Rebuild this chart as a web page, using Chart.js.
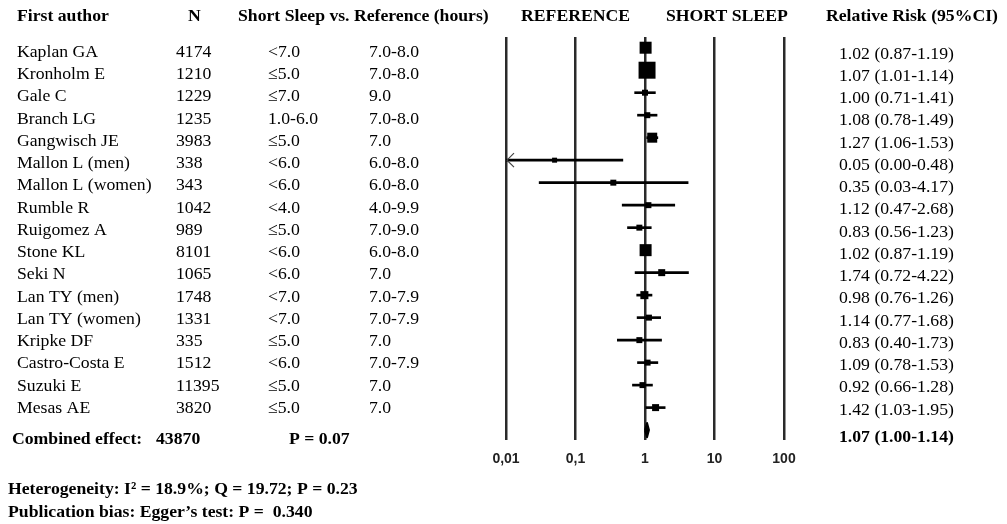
<!DOCTYPE html>
<html>
<head>
<meta charset="utf-8">
<script src="https://cdn.jsdelivr.net/npm/chart.js@4.4.0/dist/chart.umd.min.js"></script>
<style>
html, body { margin: 0; padding: 0; background: #fff; }
</style>
</head>
<body>
<canvas id="forest" width="1007" height="524"></canvas>
<script>
// estudos (uma linha por estudo)
var autores = ['Kaplan GA', 'Kronholm E', 'Gale C', 'Branch LG', 'Gangwisch JE', 'Mallon L (men)', 'Mallon L (women)', 'Rumble R', 'Ruigomez A', 'Stone KL', 'Seki N', 'Lan TY (men)', 'Lan TY (women)', 'Kripke DF', 'Castro-Costa E', 'Suzuki E', 'Mesas AE'];
var n_estudo = [4174, 1210, 1229, 1235, 3983, 338, 343, 1042, 989, 8101, 1065, 1748, 1331, 335, 1512, 11395, 3820];
var sono_curto = ['<7.0', '≤5.0', '≤7.0', '1.0-6.0', '≤5.0', '<6.0', '<6.0', '<4.0', '≤5.0', '<6.0', '<6.0', '<7.0', '<7.0', '≤5.0', '<6.0', '≤5.0', '≤5.0'];
var sono_ref = ['7.0-8.0', '7.0-8.0', '9.0', '7.0-8.0', '7.0', '6.0-8.0', '6.0-8.0', '4.0-9.9', '7.0-9.0', '6.0-8.0', '7.0', '7.0-7.9', '7.0-7.9', '7.0', '7.0-7.9', '7.0', '7.0'];
var rr = [1.02, 1.07, 1.00, 1.08, 1.27, 0.05, 0.35, 1.12, 0.83, 1.02, 1.74, 0.98, 1.14, 0.83, 1.09, 0.92, 1.42];
var ic_inf = [0.87, 1.01, 0.71, 0.78, 1.06, 0.00, 0.03, 0.47, 0.56, 0.87, 0.72, 0.76, 0.77, 0.40, 0.78, 0.66, 1.03];
var ic_sup = [1.19, 1.14, 1.41, 1.49, 1.53, 0.48, 4.17, 2.68, 1.23, 1.19, 4.22, 1.26, 1.68, 1.73, 1.53, 1.28, 1.95];
// peso (%) lido pelo tamanho dos quadrados
var peso = [12.1, 24.2, 3.0, 3.0, 8.4, 2.1, 3.0, 3.0, 3.0, 12.1, 4.1, 5.4, 3.0, 3.0, 3.0, 3.0, 4.1];

// efeito combinado
var n_total = 43870;
var p_combinado = 'P = 0.07';
var rr_comb = 1.07, inf_comb = 1.00, sup_comb = 1.14;

// eixo X
var marcas = [0.01, 0.1, 1, 10, 100];
var rotulos = ['0,01', '0,1', '1', '10', '100'];

var linha_comb = autores.length;
var xmin = marcas[0];

function fmt(v) { return v.toFixed(2); }

// pontos e intervalos
var pontos = rr.map(function (v, i) { return { x: v, y: i }; });
var intervalos = rr.map(function (v, i) { return { x: [Math.max(ic_inf[i], xmin), ic_sup[i]], y: i }; });
var raios = peso.map(function (p) { return Math.sqrt(p) * 2.44; });
var losango = [
    { x: inf_comb, y: linha_comb },
    { x: rr_comb, y: linha_comb - 0.32 },
    { x: sup_comb, y: linha_comb },
    { x: rr_comb, y: linha_comb + 0.32 },
    { x: inf_comb, y: linha_comb }
];

// textos da tabela
var textos = {
    id: 'textos',
    afterDraw: function (chart) {
        var ctx = chart.ctx, ys = chart.scales.y, xs = chart.scales.x;
        ctx.save();
        ctx.fillStyle = '#000';
        ctx.textBaseline = 'alphabetic';
        ctx.textAlign = 'left';

        ctx.font = 'bold 17.7px "Liberation Serif"';
        ctx.fillText('First author', 17, 20.5);
        ctx.fillText('N', 188, 20.5);
        ctx.fillText('Short Sleep vs. Reference (hours)', 238, 20.5);
        ctx.fillText('REFERENCE', 521, 20.5);
        ctx.fillText('SHORT SLEEP', 666, 20.5);
        ctx.fillText('Relative Risk (95%CI)', 826, 20.5);

        ctx.font = '17.7px "Liberation Serif"';
        for (var i = 0; i < autores.length; i++) {
            var py = ys.getPixelForValue(i) + 9.3 - 0.25 * i;
            ctx.fillText(autores[i], 17, py);
            ctx.fillText(String(n_estudo[i]), 176, py);
            ctx.fillText(sono_curto[i], 268, py);
            ctx.fillText(sono_ref[i], 369, py);
            ctx.fillText(fmt(rr[i]) + ' (' + fmt(ic_inf[i]) + '-' + fmt(ic_sup[i]) + ')', 839, py + 1.6);
        }

        var pc = ys.getPixelForValue(linha_comb);
        ctx.font = 'bold 17.7px "Liberation Serif"';
        ctx.fillText('Combined effect:', 12, pc + 13.5);
        ctx.fillText(String(n_total), 156, pc + 13.5);
        ctx.fillText(p_combinado, 289, pc + 13.5);
        ctx.fillText(fmt(rr_comb) + ' (' + fmt(inf_comb) + '-' + fmt(sup_comb) + ')', 839, pc + 11.5);

        ctx.fillText('Heterogeneity: I\u00B2 = 18.9%; Q = 19.72; P = 0.23', 8, 493.5);
        ctx.fillText('Publication bias: Egger\u2019s test: P =  0.340', 8, 516.5);

        // seta quando o IC passa do limite do eixo
        ctx.strokeStyle = '#444';
        ctx.lineWidth = 1.2;
        for (var j = 0; j < autores.length; j++) {
            if (ic_inf[j] < xmin) {
                var ax = xs.getPixelForValue(xmin), ay = ys.getPixelForValue(j);
                ctx.beginPath();
                ctx.moveTo(ax + 8, ay - 7);
                ctx.lineTo(ax + 1, ay);
                ctx.lineTo(ax + 8, ay + 7);
                ctx.stroke();
            }
        }
        ctx.restore();
    }
};

var forest = new Chart(document.getElementById('forest'), {
    type: 'scatter',
    data: {
        datasets: [{
                type: 'bar',
                indexAxis: 'y',
                data: intervalos,
                backgroundColor: '#000',
                borderWidth: 0,
                barThickness: 2
            }, {
                type: 'scatter',
                data: pontos,
                pointStyle: 'rect',
                pointRadius: raios,
                backgroundColor: '#000',
                borderWidth: 0
            }, {
                type: 'line',
                data: losango,
                showLine: true,
                fill: 'shape',
                borderColor: '#000',
                backgroundColor: '#000',
                borderWidth: 2,
                borderJoinStyle: 'round',
                pointRadius: 0,
                tension: 0
            }]
    },
    plugins: [textos],
    options: {
        responsive: false,
        animation: false,
        layout: { padding: { left: 506, right: 223, top: 37, bottom: 54 } },
        plugins: { legend: { display: false }, tooltip: { enabled: false } },
        scales: {
            x: {
                type: 'logarithmic',
                min: 0.01,
                max: 100,
                afterBuildTicks: function (s) { s.ticks = marcas.map(function (v) { return { value: v }; }); },
                afterFit: function (s) { s.height = 30; },
                grid: { color: '#2a2a2a', lineWidth: 2.5, drawTicks: false },
                border: { display: false },
                ticks: {
                    autoSkip: false,
                    maxRotation: 0,
                    padding: 11,
                    color: '#222',
                    font: { family: '"Liberation Sans"', size: 14, weight: 'bold' },
                    callback: function (v, i) { return rotulos[i]; }
                }
            },
            y: {
                type: 'linear',
                display: false,
                reverse: true,
                offset: false,
                grid: { offset: false },
                min: -0.476,
                max: 17.44
            }
        }
    }
});
</script>
</body>
</html>
